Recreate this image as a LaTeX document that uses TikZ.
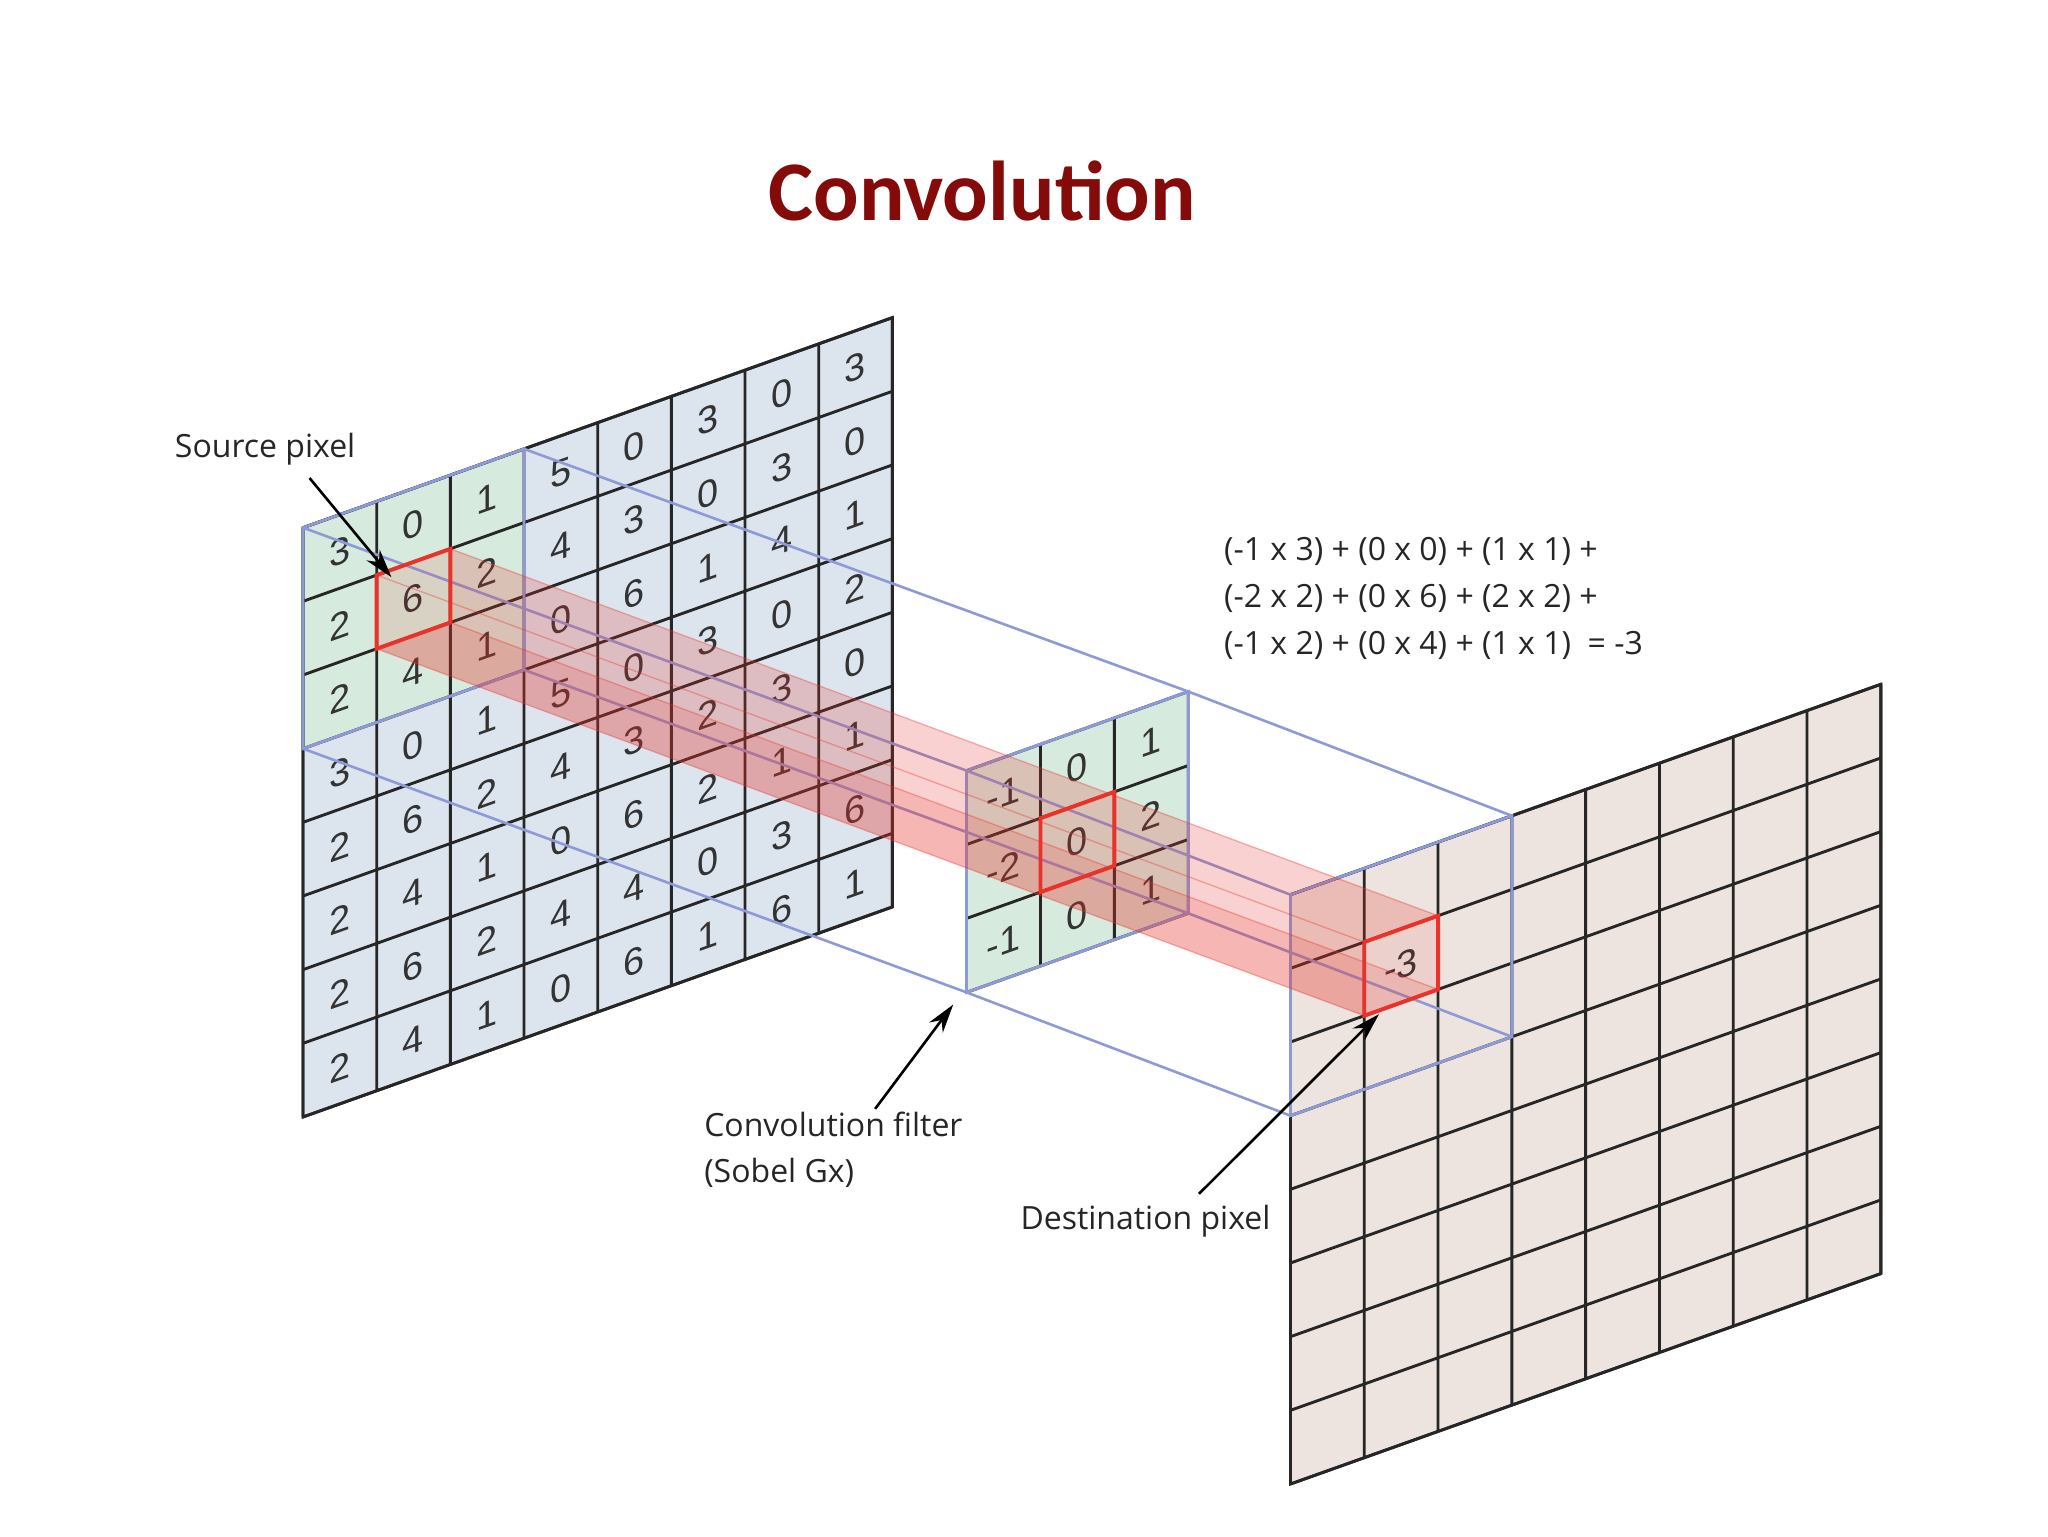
\documentclass[tikz,border=0pt]{standalone}
\usepackage{fontspec}
\setmainfont{Open Sans}
\newfontfamily\titlefont{Carlito}
\newfontfamily\digitfont{Liberation Sans}
\usetikzlibrary{arrows.meta}
\definecolor{titlered}{HTML}{850A0A}
\definecolor{gcell}{HTML}{D6EADD}
\definecolor{bcell}{HTML}{DCE5EE}
\definecolor{dcell}{HTML}{EDE3DF}
\definecolor{fline}{HTML}{8E9AD6}
\definecolor{selred}{HTML}{E8322A}
\tikzset{
  grid/.style={line width=2.2pt, black!85, step=1},
  frame/.style={line width=2.2pt, fline},
  sel/.style={line width=3pt, selred},
  dig/.style={transform shape, font=\digitfont\fontsize{29}{29}\selectfont, text=black!80, inner sep=0pt},
  lbl/.style={font=\fontsize{24.5}{28}\selectfont, text=black!85, inner sep=0pt},
  ptr/.style={line width=2pt, -{Stealth[length=22pt,width=13pt]}},
}
\begin{document}
\begin{tikzpicture}[x=1pt,y=1pt]
\path[use as bounding box, fill=white] (0,0) rectangle (1568,1176);
\node[font=\titlefont\bfseries\fontsize{65}{65}\selectfont, text=titlered] (title) at (752,1030) {Convolution};

% ---------- source plane ----------
\begin{scope}[cm={1,0.3564,0,1,(232pt,772pt)}, x=56.4pt, y=56.4pt]
  \fill[bcell] (0,0) rectangle (8,-8);
  \fill[gcell] (0,0) rectangle (3,-3);
  \draw[grid] (0,-8) grid (8,0);
  \draw[grid] (0,0) rectangle (8,-8);
  \draw[frame] (0,0) rectangle (3,-3);
  \foreach \col/\vals in {0/{3,2,2,3,2,2,2,2},1/{0,6,4,0,6,4,6,4},2/{1,2,1,1,2,1,2,1},3/{5,4,0,5,4,0,4,0},4/{0,3,6,0,3,6,4,6},5/{3,0,1,3,2,2,0,1},6/{0,3,4,0,3,1,3,6},7/{3,0,1,2,0,1,6,1}}{
    \foreach \v [count=\r from 0] in \vals {
      \node[dig] at (\col+0.5,-\r-0.5) {\v};
    }
  }
  \coordinate (S0) at (0,0); \coordinate (S1) at (3,0);
  \coordinate (S2) at (3,-3); \coordinate (S3) at (0,-3);
  \coordinate (sTL) at (1,-1); \coordinate (sTR) at (2,-1);
  \coordinate (sBR) at (2,-2); \coordinate (sBL) at (1,-2);
  \coordinate (srcpt) at (1.2,-1.1);
\end{scope}

% ---------- filter ----------
\begin{scope}[cm={1,0.3564,0,1,(740pt,586pt)}, x=56.6pt, y=56.6pt]
  \fill[gcell] (0,0) rectangle (3,-3);
  \draw[grid] (0,-3) grid (3,0);
  \draw[frame] (0,0) rectangle (3,-3);
  \foreach \col/\vals in {0/{-1,-2,-1},1/{0,0,0},2/{1,2,1}}{
    \foreach \v [count=\r from 0] in \vals {
      \node[dig] at (\col+0.5,-\r-0.5) {\v};
    }
  }
  \coordinate (F0) at (0,0); \coordinate (F1) at (3,0);
  \coordinate (F2) at (3,-3); \coordinate (F3) at (0,-3);
  \coordinate (fTL) at (1,-1); \coordinate (fTR) at (2,-1);
  \coordinate (fBR) at (2,-2); \coordinate (fBL) at (1,-2);
  \coordinate (filtpt) at (-0.18,-3.1);
\end{scope}

% ---------- destination ----------
\begin{scope}[cm={1,0.3564,0,1,(988pt,491pt)}, x=56.5pt, y=56.4pt]
  \fill[dcell] (0,0) rectangle (8,-8);
  \draw[grid] (0,-8) grid (8,0);
  \draw[grid] (0,0) rectangle (8,-8);
  \draw[frame] (0,0) rectangle (3,-3);
  \node[dig] at (1.5,-1.5) {-3};
  \coordinate (D0) at (0,0); \coordinate (D1) at (3,0);
  \coordinate (D2) at (3,-3); \coordinate (D3) at (0,-3);
  \coordinate (dTL) at (1,-1); \coordinate (dTR) at (2,-1);
  \coordinate (dBR) at (2,-2); \coordinate (dBL) at (1,-2);
  \coordinate (dstpt) at (1.2,-2.05);
\end{scope}

% ---------- frustum lines ----------
\foreach \i in {0,1,2,3}{
  \draw[fline, line width=2pt] (S\i) -- (F\i) -- (D\i);
}

% ---------- red beam ----------
\fill[selred, opacity=0.13] (sTL) -- (sTR) -- (dTR) -- (dTL) -- cycle;
\fill[selred, opacity=0.13] (sTL) -- (sBL) -- (dBL) -- (dTL) -- cycle;
\fill[selred, opacity=0.25] (sBL) -- (sBR) -- (dBR) -- (dBL) -- cycle;
\fill[selred, opacity=0.10] (sTR) -- (sBR) -- (dBR) -- (dTR) -- cycle;
\draw[selred, opacity=0.35, line width=1pt] (sTL) -- (dTL) (sTR) -- (dTR) (sBR) -- (dBR) (sBL) -- (dBL);
\draw[sel] (sTL) -- (sTR) -- (sBR) -- (sBL) -- cycle;
\draw[sel] (fTL) -- (fTR) -- (fBR) -- (fBL) -- cycle;
\draw[sel] (dTL) -- (dTR) -- (dBR) -- (dBL) -- cycle;

% ---------- labels ----------
\node[lbl, anchor=base] (srclbl) at (203,826) {Source pixel};
\draw[ptr] (237,810) -- (srcpt);
\node[lbl, anchor=base west] (filtlbl) at (539,306) {Convolution filter};
\node[lbl, anchor=base west] (filtlbl2) at (539,271) {(Sobel Gx)};
\draw[ptr] (670,327) -- (filtpt);
\node[lbl, anchor=base] (dstlbl) at (877,235) {Destination pixel};
\draw[ptr] (918,262) -- (dstpt);
\node[lbl, anchor=base west] (eq1) at (937,747) {(-1 x 3) + (0 x 0) + (1 x 1) +};
\node[lbl, anchor=base west] (eq2) at (937,711) {(-2 x 2) + (0 x 6) + (2 x 2) +};
\node[lbl, anchor=base west] (eq3) at (937,675) {(-1 x 2) + (0 x 4) + (1 x 1)\ \ = -3};
\end{tikzpicture}
\end{document}
